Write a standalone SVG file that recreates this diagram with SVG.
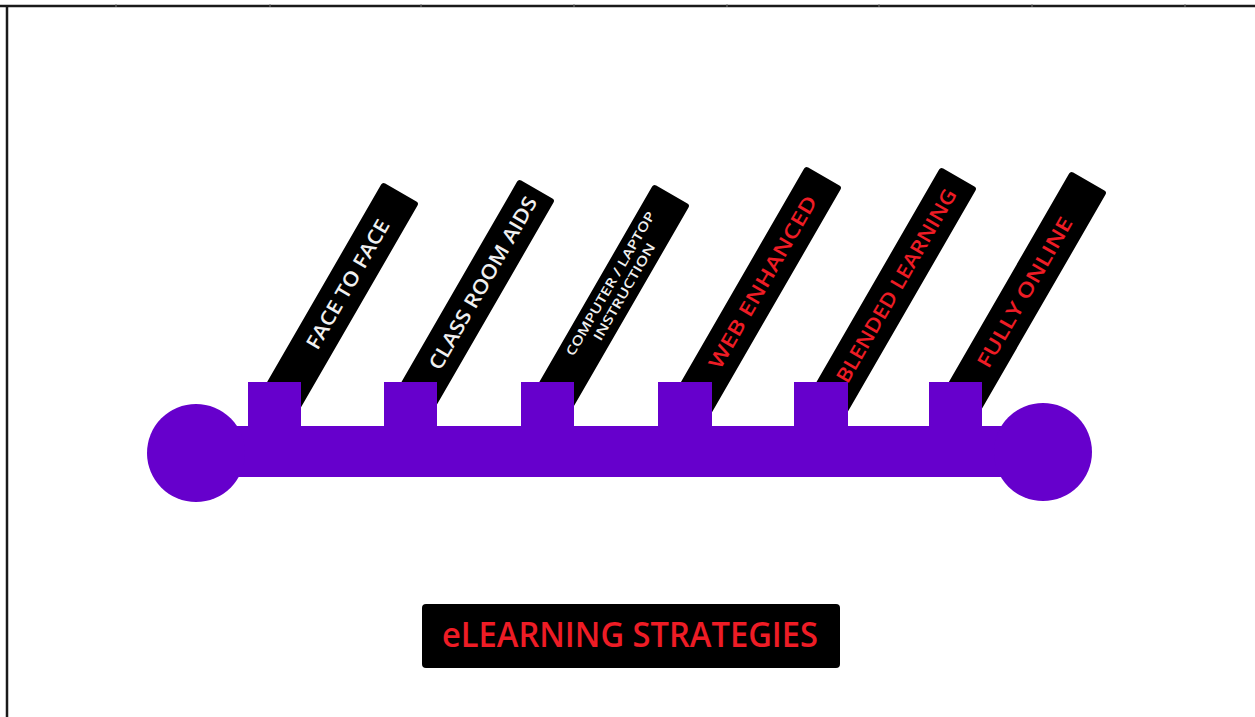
<svg xmlns="http://www.w3.org/2000/svg" width="1255" height="717" viewBox="0 0 1255 717">
<style>
.frame{stroke:#1a1a1a;stroke-width:2.5;fill:none}
.tick{stroke:#777;stroke-width:1}
.bar{fill:#000}
.lbl{font-family:"Open Sans","Liberation Sans",sans-serif;font-weight:600;font-size:20px}
.small{font-size:13px}
.w{fill:#f0f0f0}
.r{fill:#ee1c25}
.purple{fill:#6600cc}
.title{font-family:"Open Sans","Liberation Sans",sans-serif;font-weight:600;font-size:34px;fill:#ee1c25}
</style>
<rect width="1255" height="717" fill="#fff"/>
<g id="frame">
<line class="frame" x1="0" y1="6" x2="1255" y2="6"/>
<line class="frame" x1="7" y1="6" x2="7" y2="717"/>
<g class="tick">
<line x1="116" y1="4" x2="116" y2="7"/><line x1="270" y1="4" x2="270" y2="7"/><line x1="421" y1="4" x2="421" y2="7"/><line x1="574" y1="4" x2="574" y2="7"/><line x1="727" y1="4" x2="727" y2="7"/><line x1="879" y1="4" x2="879" y2="7"/><line x1="1032" y1="4" x2="1032" y2="7"/><line x1="1185" y1="4" x2="1185" y2="7"/>
</g>
</g>
<g id="face-to-face" transform="translate(419,203) rotate(-60)">
<rect class="bar" x="-258" y="-42" width="258" height="42" rx="3"/>
<text class="lbl w" x="-179" y="-14" textLength="146" lengthAdjust="spacingAndGlyphs">FACE TO FACE</text>
</g>
<g id="class-room-aids" transform="translate(555,200) rotate(-60)">
<rect class="bar" x="-261" y="-42" width="261" height="42" rx="3"/>
<text class="lbl w" x="-206" y="-14" textLength="196" lengthAdjust="spacingAndGlyphs">CLASS ROOM AIDS</text>
</g>
<g id="computer-laptop" transform="translate(690,205) rotate(-60)">
<rect class="bar" x="-255" y="-42" width="255" height="42" rx="3"/>
<text class="lbl small w" x="-108" y="-25" text-anchor="middle" textLength="164" lengthAdjust="spacingAndGlyphs">COMPUTER / LAPTOP</text>
<text class="lbl small w" x="-108" y="-9" text-anchor="middle" textLength="110" lengthAdjust="spacingAndGlyphs">INSTRUCTION</text>
</g>
<g id="web-enhanced" transform="translate(842,187) rotate(-60)">
<rect class="bar" x="-280" y="-42" width="280" height="42" rx="3"/>
<text class="lbl r" x="-220" y="-14" textLength="196" lengthAdjust="spacingAndGlyphs">WEB ENHANCED</text>
</g>
<g id="blended-learning" transform="translate(977,188) rotate(-60)">
<rect class="bar" x="-279" y="-42" width="279" height="42" rx="3"/>
<text class="lbl r" x="-235" y="-14" textLength="220" lengthAdjust="spacingAndGlyphs">BLENDED LEARNING</text>
</g>
<g id="fully-online" transform="translate(1107,192) rotate(-60)">
<rect class="bar" x="-274" y="-42" width="274" height="42" rx="3"/>
<text class="lbl r" x="-213" y="-14" textLength="170" lengthAdjust="spacingAndGlyphs">FULLY ONLINE</text>
</g>
<g id="connectors" class="purple">
<rect x="248" y="382" width="53" height="46"/>
<rect x="384" y="382" width="53" height="46"/>
<rect x="521" y="382" width="53" height="46"/>
<rect x="658" y="382" width="54" height="46"/>
<rect x="794" y="382" width="54" height="46"/>
<rect x="929" y="382" width="53" height="46"/>
</g>
<g id="spine" class="purple">
<rect x="196" y="426" width="847" height="51"/>
<circle cx="196" cy="453" r="49"/>
<circle cx="1043" cy="452" r="49"/>
</g>
<g id="title">
<rect x="422" y="604" width="418" height="64" rx="4" fill="#000"/>
<text class="title" x="630" y="647" text-anchor="middle" textLength="376" lengthAdjust="spacingAndGlyphs">eLEARNING STRATEGIES</text>
</g>
</svg>
